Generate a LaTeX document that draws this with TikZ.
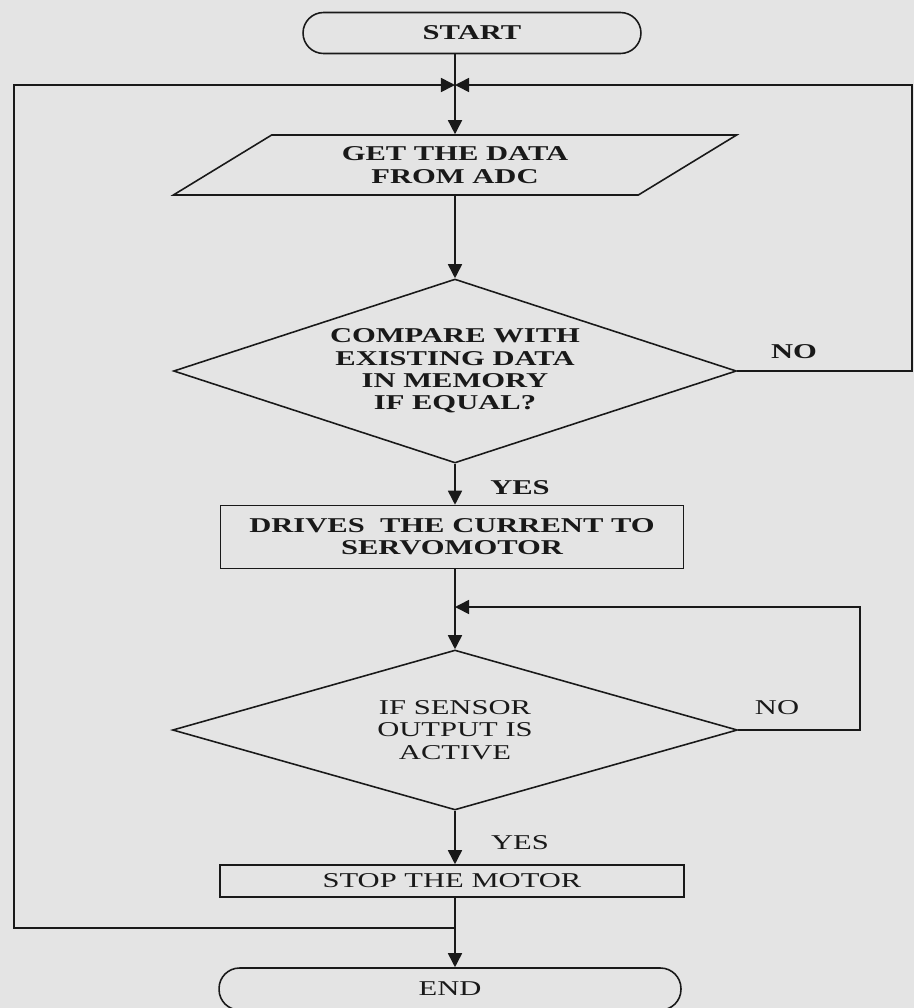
\documentclass[tikz,border=0pt]{standalone}
\usepackage{fontspec}
\setmainfont{Liberation Serif}[FakeStretch=1.45]
\usetikzlibrary{shapes.geometric,arrows.meta}
\definecolor{paper}{RGB}{228,228,228}
\definecolor{ink}{RGB}{25,25,25}
\tikzset{
  txt/.style={font=\fontsize{12}{12.7}\selectfont, text=ink},
  txtb/.style={font=\fontsize{12}{12.7}\selectfont\bfseries, text=ink},
  shp/.style={draw=ink, line width=0.9pt, align=center, inner sep=0pt},
  terminal/.style={shp, rectangle, rounded corners=0.41cm},
  io/.style={shp, trapezium, trapezium left angle=31, trapezium right angle=149, trapezium stretches},
  decision/.style={shp, diamond, aspect=3},
  process/.style={shp, rectangle},
  line/.style={draw=ink, line width=0.9pt},
  arrow/.style={line, -{Triangle[length=8pt,width=8pt]}}
}
\begin{document}
\begin{tikzpicture}[x=0.02cm, y=-0.02cm]
            \useasboundingbox (0,0) rectangle (914,1008);
            \fill[paper] (0,0) rectangle (914,1008);

            \node [terminal, txtb, minimum width=6.76cm, minimum height=0.82cm] (start) at (472,33) {START};
            \coordinate (merge) at (455,85);
            \node [io, txtb, minimum width=11.3cm, minimum height=1.2cm] (get) at (455,165) {GET THE DATA\\FROM ADC};
            \node [decision, txtb, minimum width=11.26cm, minimum height=3.68cm] (cmp) at (455,371) {COMPARE WITH\\EXISTING DATA\\IN MEMORY\\IF EQUAL?};
            \node [process, txtb, minimum width=9.26cm, minimum height=1.26cm] (drive) at (452,537) {DRIVES\ \ THE CURRENT TO\\SERVOMOTOR};
            \coordinate (loop) at (455,607);
            \node [decision, txt, minimum width=11.3cm, minimum height=3.2cm] (sense) at (455,730) {IF SENSOR\\OUTPUT IS\\ACTIVE};
            \node [process, txt, minimum width=9.28cm, minimum height=0.64cm] (halt) at (452,881) {STOP THE MOTOR};
            \coordinate (back) at (455,928);
            \node [terminal, txt, minimum width=9.24cm, minimum height=0.84cm] (finish) at (450,989) {END};

            % labels on the branches
            \node [txtb] (no1) at (794,352) {NO};
            \node [txtb] (yes1) at (520,488) {YES};
            \node [txt] (no2) at (777,708) {NO};
            \node [txt] (yes2) at (520,843) {YES};

            % corners of the loops
            \coordinate (lft) at (14,85);
            \coordinate (rgt) at (912,85);
            \coordinate (rgt2) at (860,607);

            \draw[line] (start.south -| merge) -- (merge);
            \draw[arrow] (merge) -- (get.north);
            \draw[arrow] (get.south) -- (cmp.north);
            \draw[arrow] (cmp.south) -- (drive.north -| cmp.south);
            \draw[arrow] (drive.south -| sense.north) -- (sense.north);
            \draw[arrow] (sense.south) -- (halt.north -| sense.south);
            \draw[arrow] (halt.south -| back) -- (finish.north -| back);

            \draw[arrow] (cmp.east) -| (rgt) -- (merge);
            \draw[arrow] (back) -| (lft) -- (merge);
            \draw[arrow] (sense.east) -| (rgt2) -- (loop);
\end{tikzpicture}
\end{document}
